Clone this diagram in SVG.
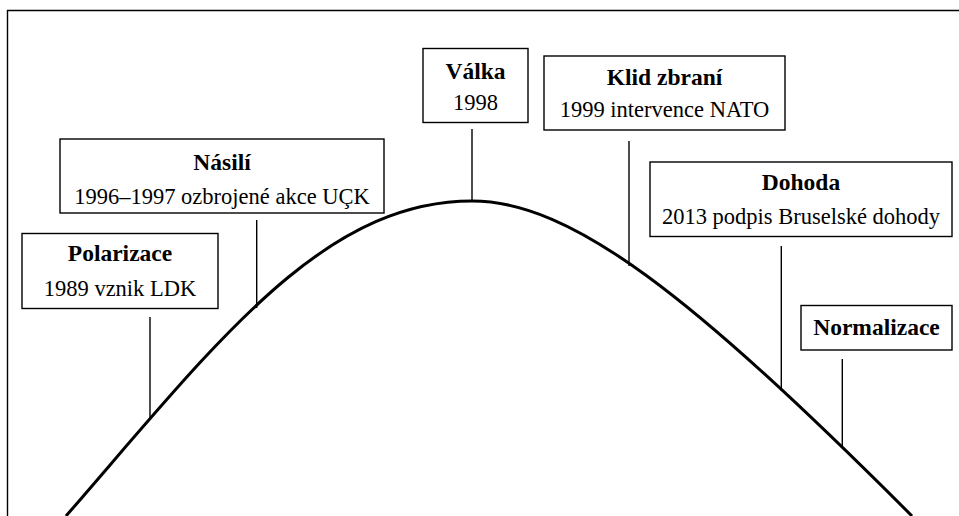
<svg xmlns="http://www.w3.org/2000/svg" width="959" height="516" viewBox="0 0 959 516">
<style>
.box{fill:#fff;stroke:#000;stroke-width:1.4}
.t{font-family:"Liberation Serif","Times New Roman",serif;text-anchor:middle;fill:#000}
.b{font-weight:bold;font-size:23.5px}
.r{font-size:22.5px}
.lead{stroke:#000;stroke-width:1.4;fill:none}
.curve{stroke:#000;stroke-width:3;fill:none}
</style>
<rect x="0" y="0" width="959" height="516" fill="#fff"/>
<path d="M7.5,516 V10.5 H959" fill="none" stroke="#000" stroke-width="1.4"/>
<g id="connectors">
<path class="curve" d="M66,516 C216,343.5 322,201 472,201 C572,201 692,296 912,516"/>
<line class="lead" x1="150" y1="317" x2="150" y2="419"/>
<line class="lead" x1="256.7" y1="220" x2="256.7" y2="308"/>
<line class="lead" x1="472" y1="129" x2="472" y2="201"/>
<line class="lead" x1="629" y1="141" x2="629" y2="266"/>
<line class="lead" x1="781.3" y1="246" x2="781.3" y2="391"/>
<line class="lead" x1="842.3" y1="359" x2="842.3" y2="448"/>
</g>
<g id="polarizace">
<rect class="box" x="22" y="233.5" width="196" height="75"/>
<text class="t b" x="120" y="261">Polarizace</text>
<text class="t r" x="120" y="296">1989 vznik LDK</text>
</g>
<g id="nasili">
<rect class="box" x="60" y="139" width="324" height="74"/>
<text class="t b" x="222" y="170">Násilí</text>
<text class="t r" x="222" y="204">1996–1997 ozbrojené akce UÇK</text>
</g>
<g id="valka">
<rect class="box" x="423" y="48.5" width="105" height="74"/>
<text class="t b" x="475.5" y="78.5">Válka</text>
<text class="t r" x="475.5" y="110">1998</text>
</g>
<g id="klid">
<rect class="box" x="544" y="56" width="241" height="74"/>
<text class="t b" x="664.5" y="84.5">Klid zbraní</text>
<text class="t r" x="664.5" y="117">1999 intervence NATO</text>
</g>
<g id="dohoda">
<rect class="box" x="650" y="162" width="302" height="74.5"/>
<text class="t b" x="801" y="190">Dohoda</text>
<text class="t r" x="801" y="223.5">2013 podpis Bruselské dohody</text>
</g>
<g id="normalizace">
<rect class="box" x="801" y="305.5" width="151" height="44.5"/>
<text class="t b" x="876.5" y="335">Normalizace</text>
</g>
</svg>
